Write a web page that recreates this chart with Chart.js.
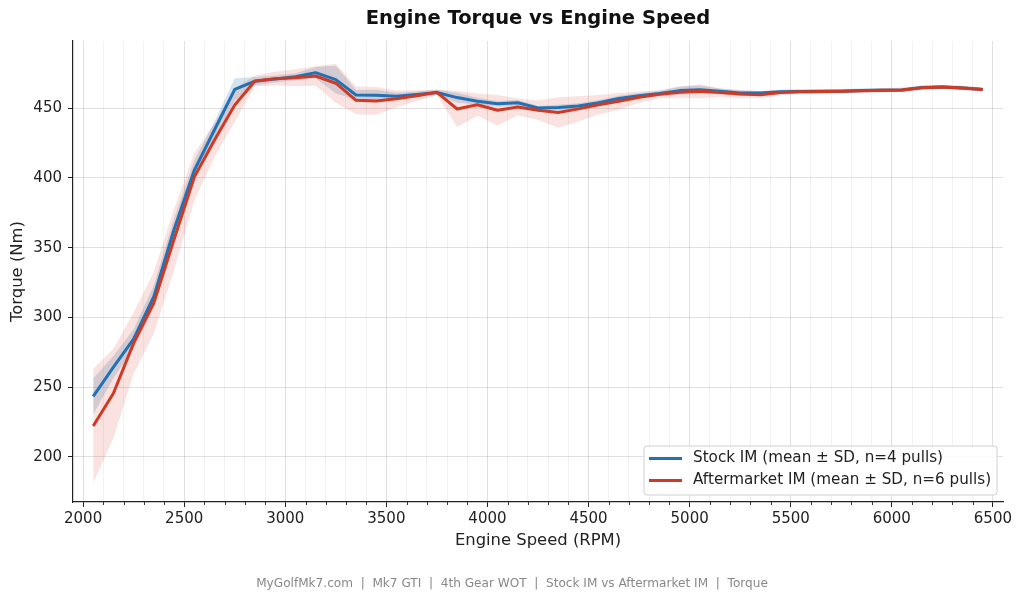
<!DOCTYPE html>
<html><head><meta charset="utf-8">
<script src="https://cdn.jsdelivr.net/npm/chart.js@4/dist/chart.umd.min.js"></script>
<style>html,body{margin:0;padding:0;background:#fff;}canvas{display:block}</style>
</head><body>
<canvas id="c" width="1024" height="602"></canvas>
<script>
const rpm = [2050,2150,2250,2350,2450,2550,2650,2750,2850,2950,3050,3150,3250,3350,3450,3550,3650,3750,3850,3950,4050,4150,4250,4350,4450,4550,4650,4750,4850,4950,5050,5150,5250,5350,5450,5550,5650,5750,5850,5950,6050,6150,6250,6350,6450];
const stockMean = [243.3,264.3,284.5,315,363,405.5,434.6,463.6,469.5,471,472.6,475.6,470.6,459.6,459.3,458.6,460,461.4,457.7,455,453.3,454,450.2,450.6,451.6,454,457,459,460.6,462.7,463.4,462.2,461,461,461.8,462.1,462.2,462.3,462.7,463,463.2,464.9,465.3,464.6,463.5];
const stockSD = [13,8,7,8,8,7,6,8,3,2.5,2.5,4,10,3.5,4,2.5,2,2,3.5,2.5,2,2,1.5,2,2,2,2,2,2,3,3,2,2,1.5,1.5,1.5,1.5,1.5,1.5,1.5,1.5,1.5,1.5,1.5,1.5];
const afterMean = [222,245.5,281.5,310.5,356,400.7,427.3,452.4,469.6,471.3,472,473.2,468,455.7,455.3,456.8,459,461.5,449.5,452.6,448.6,451,448.6,447,449.6,452.6,455,458,460,461.5,462.2,461.3,460.2,459.7,461.3,461.8,462,462.2,462.6,462.9,463.2,464.8,465.3,464.6,463.5];
const afterSD = [41,32,22,22,22,17,12,12,4,5,6,7,14,10,10,6,4,2,13,8,11,6,7,11,9,7,6,4,3,4,5,3,3,2.5,2,1.5,1.5,1.5,1.5,1.5,1.5,1.5,1.5,1.5,1.5];
const xTickLabels = [2000,2500,3000,3500,4000,4500,5000,5500,6000,6500];
const yTickLabels = [200,250,300,350,400,450];
const seriesNames = ['Stock IM (mean \u00b1 SD, n=4 pulls)','Aftermarket IM (mean \u00b1 SD, n=6 pulls)'];
const titleText = 'Engine Torque vs Engine Speed';
const xTitle = 'Engine Speed (RPM)';
const yTitle = 'Torque (Nm)';
const footerText = 'MyGolfMk7.com  |  Mk7 GTI  |  4th Gear WOT  |  Stock IM vs Aftermarket IM  |  Torque';

const BLUE = '#2171b5', RED = '#d03a24';
const FONT = "'DejaVu Sans', sans-serif";
const xGrid = [];
for (let v = 2000; v <= 6500; v += 100) xGrid.push(v);
const isMajor = v => xTickLabels.includes(v);

const pts = (arr) => rpm.map((r,i)=>({x:r,y:arr[i]}));
const band = (m,s,sign) => rpm.map((r,i)=>({x:r,y:m[i]+sign*s[i]}));

const decor = {
  id:'decor',
  afterDraw(chart){
    const c = chart.ctx, xs = chart.scales.x, ca = chart.chartArea;
    c.save();
    c.strokeStyle='#222'; c.lineWidth=0.9;
    xGrid.forEach(v=>{ if(!isMajor(v)){ const px=Math.round(xs.getPixelForValue(v))+0.5; c.beginPath(); c.moveTo(px,ca.bottom); c.lineTo(px,ca.bottom+3); c.stroke(); }});
    c.fillStyle='#111'; c.textAlign='center'; c.textBaseline='middle';
    c.font='bold 19.5px '+FONT; c.fillText(titleText, (ca.left+ca.right)/2, 19);
    c.font='16.4px '+FONT; c.fillStyle='#222'; c.fillText(xTitle, (ca.left+ca.right)/2, 541);
    c.save(); c.translate(18,(ca.top+ca.bottom)/2); c.rotate(-Math.PI/2); c.fillText(yTitle,0,0); c.restore();
    c.font='12.1px '+FONT; c.fillStyle='#888'; c.fillText(footerText, 512, 584);
    const lx=644, ly=446, lw=353, lh=49, r=3;
    c.beginPath();
    c.moveTo(lx+r,ly); c.lineTo(lx+lw-r,ly); c.quadraticCurveTo(lx+lw,ly,lx+lw,ly+r);
    c.lineTo(lx+lw,ly+lh-r); c.quadraticCurveTo(lx+lw,ly+lh,lx+lw-r,ly+lh);
    c.lineTo(lx+r,ly+lh); c.quadraticCurveTo(lx,ly+lh,lx,ly+lh-r);
    c.lineTo(lx,ly+r); c.quadraticCurveTo(lx,ly,lx+r,ly); c.closePath();
    c.fillStyle='rgba(255,255,255,0.85)'; c.fill();
    c.strokeStyle='#d0d0d0'; c.lineWidth=1; c.stroke();
    const rows=[[BLUE,seriesNames[0],458.5],[RED,seriesNames[1],480.5]];
    c.font='15.2px '+FONT; c.textAlign='left';
    rows.forEach(([col,txt,y])=>{
      c.strokeStyle=col; c.lineWidth=3; c.beginPath(); c.moveTo(649,y); c.lineTo(682,y); c.stroke();
      c.fillStyle='#222'; c.fillText(txt,693,y);
    });
    c.restore();
  }
};

new Chart(document.getElementById('c').getContext('2d'), {
  type:'line',
  data:{datasets:[
    {label:seriesNames[1], data:pts(afterMean), borderColor:RED, borderWidth:3, fill:false, order:0},
    {label:seriesNames[0], data:pts(stockMean), borderColor:BLUE, borderWidth:3, fill:false, order:1},
    {data:band(afterMean,afterSD,1), borderWidth:0, borderColor:'rgba(0,0,0,0)', backgroundColor:'rgba(215,60,40,0.15)', fill:'+1', order:2},
    {data:band(afterMean,afterSD,-1), borderWidth:0, borderColor:'rgba(0,0,0,0)', fill:false, order:2},
    {data:band(stockMean,stockSD,1), borderWidth:0, borderColor:'rgba(0,0,0,0)', backgroundColor:'rgba(33,113,181,0.2)', fill:'+1', order:3},
    {data:band(stockMean,stockSD,-1), borderWidth:0, borderColor:'rgba(0,0,0,0)', fill:false, order:3}
  ]},
  options:{
    responsive:false, animation:false, devicePixelRatio:1,
    layout:{padding:{left:0,top:41,right:21,bottom:0}},
    plugins:{legend:{display:false},tooltip:{enabled:false},title:{display:false}},
    elements:{point:{radius:0,hoverRadius:0},line:{tension:0,borderJoinStyle:'round',borderCapStyle:'butt'}},
    scales:{
      x:{type:'linear',min:1950,max:6550,
        afterBuildTicks:s=>{s.ticks=xGrid.map(v=>({value:v}));},
        afterFit:s=>{s.height=100;},
        ticks:{autoSkip:false,maxRotation:0,minRotation:0,padding:3,color:'#222',font:{family:FONT,size:15},
          callback:v=>isMajor(v)?String(v):''},
        grid:{color:c=>isMajor(c.tick.value)?'rgba(0,0,0,0.12)':'rgba(0,0,0,0.05)',lineWidth:1,tickLength:5,
          tickColor:c=>isMajor(c.tick.value)?'#222':'rgba(0,0,0,0)',tickWidth:1},
        border:{color:'#222',width:1.2}
      },
      y:{type:'linear',min:167.5,max:498.3,
        afterBuildTicks:s=>{s.ticks=yTickLabels.map(v=>({value:v}));},
        afterFit:s=>{s.width=73;},
        ticks:{padding:6,color:'#222',font:{family:FONT,size:15},callback:v=>String(v)},
        grid:{color:'rgba(0,0,0,0.12)',lineWidth:1,tickLength:5,tickColor:'#222',tickWidth:1},
        border:{color:'#222',width:1.2}
      }
    }
  },
  plugins:[decor]
});
</script></body></html>
